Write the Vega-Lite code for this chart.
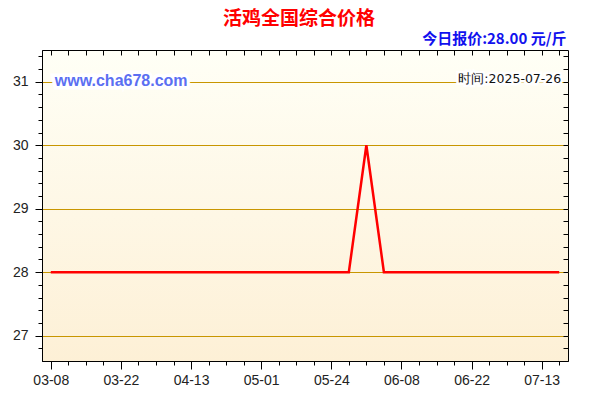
{
  "$schema": "https://vega.github.io/schema/vega-lite/v6.json",
  "description": "活鸡全国综合价格 line chart",
  "width": 526,
  "height": 311,
  "autosize": "none",
  "padding": {"left": 42, "top": 50, "right": 32, "bottom": 39},
  "background": "white",
  "title": {
    "text": "活鸡全国综合价格",
    "color": "#ff0000",
    "font": "Noto Sans CJK SC",
    "fontSize": 19,
    "fontWeight": "bold",
    "anchor": "middle",
    "frame": "group",
    "offset": 3,
    "dx": -6
  },
  "config": {
    "view": {
      "stroke": "black",
      "strokeWidth": 1,
      "fill": {
        "gradient": "linear",
        "x1": 0, "y1": 0, "x2": 0, "y2": 1,
        "stops": [
          {"offset": 0, "color": "#fffff6"},
          {"offset": 1, "color": "#fdf0d6"}
        ]
      }
    },
    "axis": {
      "domainColor": "black",
      "tickColor": "black",
      "labelColor": "#222222",
      "labelFont": "Liberation Sans",
      "labelFontSize": 14,
      "gridColor": "#c89600",
      "gridWidth": 1
    }
  },
  "datasets": {
    "prices": [
      {"date": "03-08", "price": 28},
      {"date": "03-11", "price": 28},
      {"date": "03-15", "price": 28},
      {"date": "03-18", "price": 28},
      {"date": "03-22", "price": 28},
      {"date": "03-28", "price": 28},
      {"date": "04-02", "price": 28},
      {"date": "04-08", "price": 28},
      {"date": "04-13", "price": 28},
      {"date": "04-17", "price": 28},
      {"date": "04-22", "price": 28},
      {"date": "04-26", "price": 28},
      {"date": "05-01", "price": 28},
      {"date": "05-07", "price": 28},
      {"date": "05-12", "price": 28},
      {"date": "05-18", "price": 28},
      {"date": "05-24", "price": 28},
      {"date": "05-28", "price": 28},
      {"date": "06-01", "price": 30},
      {"date": "06-05", "price": 28},
      {"date": "06-08", "price": 28},
      {"date": "06-11", "price": 28},
      {"date": "06-15", "price": 28},
      {"date": "06-18", "price": 28},
      {"date": "06-22", "price": 28},
      {"date": "06-27", "price": 28},
      {"date": "07-02", "price": 28},
      {"date": "07-08", "price": 28},
      {"date": "07-13", "price": 28},
      {"date": "07-19", "price": 28}
    ],
    "site": [{"date": "03-08", "price": 31, "label": "www.cha678.com"}],
    "stamp": [{"date": "07-19", "price": 31, "label": "时间:2025-07-26"}]
  },
  "resolve": {"axis": {"x": "independent", "y": "independent"}},
  "layer": [
    {
      "data": {"name": "prices"},
      "mark": {"type": "line", "color": "#ff0000", "strokeWidth": 2.5},
      "encoding": {
        "x": {
          "field": "date",
          "type": "ordinal",
          "scale": {"type": "point", "padding": 0.5},
          "axis": {
            "title": null,
            "orient": "bottom",
            "labelAngle": 0,
            "labelPadding": 4,
            "grid": false,
            "labelExpr": "indexof(['03-08','03-22','04-13','05-01','05-24','06-08','06-22','07-13'], datum.value) >= 0 ? datum.value : ''",
            "tickSize": {
              "condition": {"test": "indexof(['03-08','03-22','04-13','05-01','05-24','06-08','06-22','07-13'], datum.value) >= 0", "value": 8},
              "value": 4
            }
          }
        },
        "y": {
          "field": "price",
          "type": "quantitative",
          "scale": {"domain": [26.6, 31.5], "nice": false, "zero": false},
          "axis": {
            "title": null,
            "orient": "left",
            "values": [26.8, 27, 27.2, 27.4, 27.6, 27.8, 28, 28.2, 28.4, 28.6, 28.8, 29, 29.2, 29.4, 29.6, 29.8, 30, 30.2, 30.4, 30.6, 30.8, 31, 31.2, 31.4],
            "labelExpr": "datum.value % 1 === 0 ? datum.value : ''",
            "labelPadding": 7,
            "tickSize": {"condition": {"test": "datum.value % 1 === 0", "value": 7}, "value": 4},
            "grid": true,
            "gridOpacity": {"condition": {"test": "datum.value % 1 === 0", "value": 1}, "value": 0}
          }
        }
      }
    },
    {
      "data": {"name": "site"},
      "mark": {"type": "text", "align": "left", "baseline": "middle", "dx": 4, "dy": -1, "font": "Liberation Sans", "fontSize": 16, "fontWeight": "bold", "fill": "white", "stroke": "white", "strokeWidth": 7},
      "encoding": {
        "x": {
          "field": "date",
          "type": "ordinal",
          "axis": {
            "orient": "top",
            "offset": -5,
            "domain": false,
            "title": "今日报价:28.00 元/斤",
            "titleAnchor": "end",
            "titleColor": "#1111ee",
            "titleFont": "Noto Sans CJK SC",
            "titleFontSize": 15,
            "titleFontWeight": "bold",
            "titlePadding": 3,
            "titleX": 524,
            "labels": false,
            "grid": false,
            "tickSize": 5
          }
        },
        "y": {
          "field": "price",
          "type": "quantitative",
          "axis": {
            "orient": "right",
            "offset": -5,
            "domain": false,
            "title": null,
            "labels": false,
            "grid": false,
            "values": [26.8, 27, 27.2, 27.4, 27.6, 27.8, 28, 28.2, 28.4, 28.6, 28.8, 29, 29.2, 29.4, 29.6, 29.8, 30, 30.2, 30.4, 30.6, 30.8, 31, 31.2, 31.4],
            "tickSize": 5
          }
        },
        "text": {"field": "label"}
      }
    },
    {
      "data": {"name": "site"},
      "mark": {"type": "text", "align": "left", "baseline": "middle", "dx": 4, "dy": -1, "font": "Liberation Sans", "fontSize": 16, "fontWeight": "bold", "color": "#5b6ff2"},
      "encoding": {
        "x": {"field": "date", "type": "ordinal", "axis": null},
        "y": {"field": "price", "type": "quantitative", "axis": null},
        "text": {"field": "label"}
      }
    },
    {
      "data": {"name": "stamp"},
      "mark": {"type": "text", "align": "right", "baseline": "middle", "dx": 2, "dy": -3, "font": "DejaVu Sans", "fontSize": 12.5, "fill": "white", "stroke": "white", "strokeWidth": 5},
      "encoding": {
        "x": {"field": "date", "type": "ordinal", "axis": null},
        "y": {"field": "price", "type": "quantitative", "axis": null},
        "text": {"field": "label"}
      }
    },
    {
      "data": {"name": "stamp"},
      "mark": {"type": "text", "align": "right", "baseline": "middle", "dx": 2, "dy": -3, "font": "DejaVu Sans", "fontSize": 12.5, "color": "#111111"},
      "encoding": {
        "x": {"field": "date", "type": "ordinal", "axis": null},
        "y": {"field": "price", "type": "quantitative", "axis": null},
        "text": {"field": "label"}
      }
    }
  ]
}
